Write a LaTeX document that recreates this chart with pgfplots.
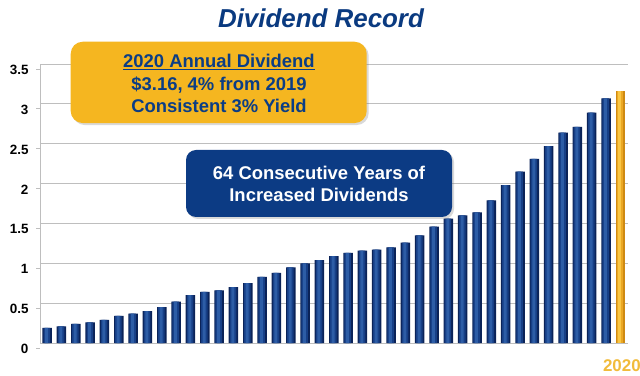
\documentclass[border=0pt]{standalone}
\usepackage{pgfplots}
\usepackage{pgfplotstable}
\pgfplotsset{compat=1.18}
\usepackage{fontspec}
\setmainfont{Liberation Sans}
\usetikzlibrary{shadows}
\definecolor{navyD}{HTML}{0B2358}
\definecolor{navyM}{HTML}{173F86}
\definecolor{navyL}{HTML}{2D5DA6}
\definecolor{goldD}{HTML}{CF8A12}
\definecolor{goldM}{HTML}{EBA824}
\definecolor{goldL}{HTML}{FAC745}
\definecolor{boxGold}{HTML}{F5B620}
\definecolor{boxBlue}{HTML}{0C3B84}
\definecolor{txtBlue}{HTML}{0B3D85}
\definecolor{titleBlue}{HTML}{0A3A80}
\definecolor{gridC}{HTML}{BEBEBE}
\pgfplotstableread{
x y
0 0.19
1 0.21
2 0.24
3 0.26
4 0.29
5 0.34
6 0.37
7 0.40
8 0.45
9 0.52
10 0.60
11 0.64
12 0.66
13 0.70
14 0.75
15 0.83
16 0.88
17 0.95
18 1.00
19 1.04
20 1.09
21 1.13
22 1.16
23 1.17
24 1.20
25 1.26
26 1.35
27 1.46
28 1.56
29 1.60
30 1.64
31 1.79
32 1.98
33 2.15
34 2.31
35 2.47
36 2.64
37 2.71
38 2.89
39 3.07
}\bluebars
\pgfplotstableread{
x y
40 3.16
}\goldbars
\begin{document}
\begin{tikzpicture}
\begin{axis}[
  scale only axis,
  width=587.5bp, height=279bp,
  at={(40bp,33bp)}, anchor=south west,
  xmin=-0.5, xmax=40.5,
  ymin=0, ymax=3.5,
  ytick={0,0.5,1,1.5,2,2.5,3,3.5},
  yticklabels={0,0.5,1,1.5,2,2.5,3,3.5},
  yticklabel style={font=\fontsize{13.5}{14}\selectfont\bfseries, yshift=-6bp, xshift=-4bp},
  /pgf/number format/assume math mode=true,
  ymajorgrids,
  major grid style={gridC, line width=0.9bp},
  tick align=outside,
  major tick length=4bp,
  ytick style={gridC, line width=0.8bp, yshift=-5bp},
  xtick={40}, xticklabels={2020},
  xticklabel style={font=\fontsize{17}{18}\selectfont\bfseries, text=goldL!80!goldD, yshift=-9bp, xshift=1.5bp},
  xtick style={draw=none},
  axis x line*=bottom,
  axis y line*=left,
  axis line style={gridC, line width=0.9bp},
  clip=false,
]
% blue cylinders: dark body, medium core, light highlight
\addplot[ybar, bar shift=0pt, bar width=9.5bp, draw=none, fill=navyD] table[x=x,y=y]{\bluebars};
\addplot[ybar, bar shift=-0.4bp, bar width=6.5bp, draw=none, fill=navyM] table[x=x,y=y]{\bluebars};
\addplot[ybar, bar shift=-0.6bp, bar width=3bp, draw=none, fill=navyL] table[x=x,y=y]{\bluebars};
% gold cylinder
\addplot[ybar, bar shift=0pt, bar width=9.5bp, draw=none, fill=goldD] table[x=x,y=y]{\goldbars};
\addplot[ybar, bar shift=-0.4bp, bar width=6.5bp, draw=none, fill=goldM] table[x=x,y=y]{\goldbars};
\addplot[ybar, bar shift=-0.6bp, bar width=3bp, draw=none, fill=goldL] table[x=x,y=y]{\goldbars};
\end{axis}
% title
\node[font=\fontsize{26}{28}\selectfont\bfseries\itshape, text=titleBlue] at (321bp,358bp) {Dividend Record};
% gold box
\node[draw=none, fill=boxGold, rounded corners=12bp, drop shadow={opacity=0.3, shadow xshift=2bp, shadow yshift=-2bp},
  minimum width=296bp, minimum height=81.3bp, inner sep=0pt] at (218.7bp,293.6bp) {};
\node[align=center, text=txtBlue, font=\fontsize{18.5}{23}\selectfont\bfseries] at (219bp,292.5bp)
  {\underline{2020 Annual Dividend}\\ \$3.16, 4\% from 2019\\ Consistent 3\% Yield};
% blue box
\node[fill=boxBlue, rounded corners=10bp, drop shadow={opacity=0.3, shadow xshift=2bp, shadow yshift=-2bp},
  minimum width=266bp, minimum height=67bp, inner sep=0pt] at (319bp,192.5bp) {};
\node[align=center, text=white, font=\fontsize{18.5}{22}\selectfont\bfseries] at (319bp,192bp)
  {64 Consecutive Years of\\ Increased Dividends};
\pgfresetboundingbox
\path (0,0) rectangle (640bp,376bp);
\end{tikzpicture}
\end{document}
